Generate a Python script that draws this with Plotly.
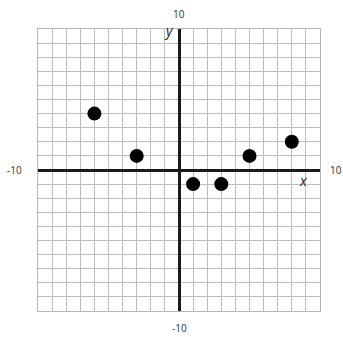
import plotly.graph_objects as go

# points on the coordinate grid
x_vals = [-6, -3, 1, 3, 5, 8]
y_vals = [4, 1, -1, -1, 1, 2]

axis_min = -10
axis_max = 10
edge_labels = ["10", "-10", "10", "-10"]  # top, left, right, bottom

fig = go.Figure(go.Scatter(
    x=x_vals,
    y=y_vals,
    mode="markers",
    marker=dict(size=14, color="black"),
    hoverinfo="skip",
))

axis_style = dict(
    range=[axis_min, axis_max],
    dtick=1,
    showgrid=True,
    gridcolor="#bdbdbd",
    gridwidth=1.3,
    zeroline=True,
    zerolinecolor="#1a1a1a",
    zerolinewidth=2.5,
    showticklabels=False,
    ticks="",
    showline=True,
    linecolor="#b5b5b5",
    linewidth=1.3,
    mirror=True,
    fixedrange=True,
)

fig.update_xaxes(**axis_style)
fig.update_yaxes(**axis_style)

lab_font = dict(family="Open Sans, sans-serif", size=10, color="#333333")

# edge numbers
fig.add_annotation(x=0, y=axis_max, text=edge_labels[0], showarrow=False,
                   yshift=15, font=lab_font)
fig.add_annotation(x=axis_min, y=0, text=edge_labels[1], showarrow=False,
                   xshift=-24, font=lab_font)
fig.add_annotation(x=axis_max, y=0, text=edge_labels[2], showarrow=False,
                   xshift=16, font=lab_font)
fig.add_annotation(x=0, y=axis_min, text=edge_labels[3], showarrow=False,
                   yshift=-17, font=lab_font)

# axis names
var_font = dict(family="Open Sans, sans-serif", size=14, color="#222222")
fig.add_annotation(x=-0.7, y=9.9, text="<i>y</i>", showarrow=False, font=var_font)
fig.add_annotation(x=8.8, y=-0.75, text="<i>x</i>", showarrow=False, font=var_font)

fig.update_layout(
    width=343,
    height=337,
    margin=dict(l=38, r=23, t=29, b=26),
    paper_bgcolor="white",
    plot_bgcolor="white",
    showlegend=False,
)

# drop the page's default body margin so the figure sits at the window corner
fig.write_html(
    "out.html",
    config={"displayModeBar": False},
    post_script="document.body.style.margin='0';",
)
